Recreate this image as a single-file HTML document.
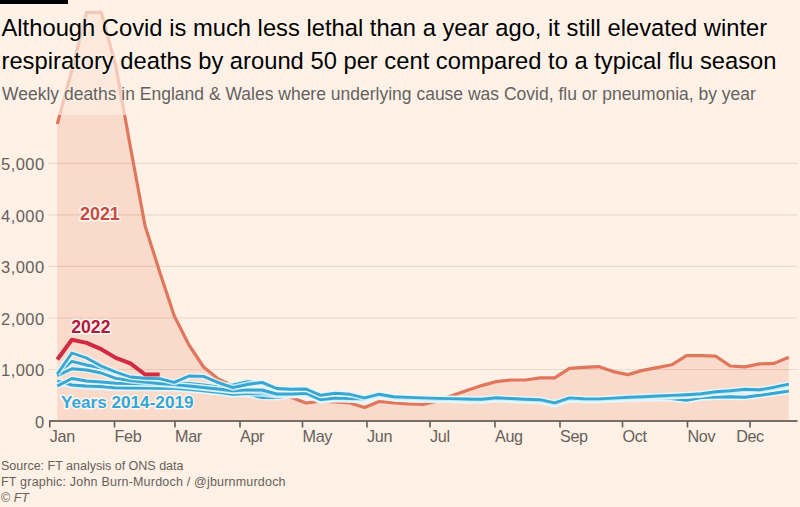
<!DOCTYPE html>
<html><head><meta charset="utf-8">
<style>
html,body{margin:0;padding:0;}
body{width:800px;height:507px;background:#fff1e5;position:relative;overflow:hidden;font-family:"Liberation Sans",sans-serif;}
svg{position:absolute;left:0;top:0;}
.g{stroke:rgba(60,20,0,0.1);stroke-width:1.1;}
.ax{stroke:#766e69;stroke-width:2;}
.tk{stroke:#655d59;stroke-width:1.6;}
.xl{font-size:16.2px;fill:#66605c;letter-spacing:-0.35px;}
.yl{font-size:16.5px;fill:#66605c;letter-spacing:0.45px;}
.bh{fill:none;stroke:#e4f8fc;stroke-opacity:0.8;stroke-width:6;stroke-linejoin:round;}
.bl{fill:none;stroke:#38a6d0;stroke-width:2.9;stroke-linejoin:round;}
.lab{font-weight:bold;font-size:17px;paint-order:stroke;stroke:#fff6ee;stroke-width:3px;stroke-linejoin:round;}
#hdr{position:absolute;left:0;top:0;width:800px;height:115px;background:rgba(255,241,229,0.66);}
#bar{position:absolute;left:0;top:0;width:68px;height:4px;background:#000;}
#t1,#t2{position:absolute;left:1.5px;font-size:23.75px;color:#000;white-space:nowrap;line-height:1;text-shadow:0 0 2px #fff7f0,0 0 2px #fff7f0;}
#t1{top:16px;} #t2{top:48.6px;}
#sub{position:absolute;left:2px;top:85.6px;font-size:17.5px;color:#66605c;white-space:nowrap;line-height:1;text-shadow:0 0 2px #fff7f0,0 0 2px #fff7f0;}
.ft{position:absolute;left:1px;font-size:12.5px;color:#66605c;white-space:nowrap;line-height:1;}
</style></head><body>
<svg width="800" height="507" viewBox="0 0 800 507">
<path d="M57.3,124.0 L71.9,70.0 L86.6,12.4 L101.2,12.4 L115.8,66.0 L130.4,147.0 L145.1,226.0 L159.7,272.0 L174.3,316.0 L189.0,345.0 L203.6,367.0 L218.2,379.0 L232.9,386.0 L247.5,390.3 L262.1,392.0 L276.8,395.0 L291.4,397.5 L306.0,403.0 L320.6,401.2 L335.3,402.0 L349.9,403.0 L364.5,407.5 L379.2,401.5 L393.8,403.0 L408.4,404.0 L423.1,404.4 L437.7,401.0 L452.3,395.5 L466.9,390.4 L481.6,385.6 L496.2,381.6 L510.8,380.0 L525.5,380.0 L540.1,377.8 L554.7,377.8 L569.4,368.3 L584.0,367.4 L598.6,366.6 L613.2,371.6 L627.9,374.6 L642.5,370.4 L657.1,367.6 L671.8,364.8 L686.4,355.7 L701.0,355.7 L715.6,356.2 L730.3,366.0 L744.9,366.9 L759.5,363.9 L774.2,363.4 L788.8,357.2 L788.8,421.0 L57.3,421.0 Z" fill="#fadaca"/>
<line x1="48.5" x2="797.5" y1="369.5" y2="369.5" class="g"/><line x1="48.5" x2="797.5" y1="318.0" y2="318.0" class="g"/><line x1="48.5" x2="797.5" y1="266.4" y2="266.4" class="g"/><line x1="48.5" x2="797.5" y1="214.9" y2="214.9" class="g"/><line x1="48.5" x2="797.5" y1="163.4" y2="163.4" class="g"/>
<path d="M57.3,124.0 L71.9,70.0 L86.6,12.4 L101.2,12.4 L115.8,66.0 L130.4,147.0 L145.1,226.0 L159.7,272.0 L174.3,316.0 L189.0,345.0 L203.6,367.0 L218.2,379.0 L232.9,386.0 L247.5,390.3 L262.1,392.0 L276.8,395.0 L291.4,397.5 L306.0,403.0 L320.6,401.2 L335.3,402.0 L349.9,403.0 L364.5,407.5 L379.2,401.5 L393.8,403.0 L408.4,404.0 L423.1,404.4 L437.7,401.0 L452.3,395.5 L466.9,390.4 L481.6,385.6 L496.2,381.6 L510.8,380.0 L525.5,380.0 L540.1,377.8 L554.7,377.8 L569.4,368.3 L584.0,367.4 L598.6,366.6 L613.2,371.6 L627.9,374.6 L642.5,370.4 L657.1,367.6 L671.8,364.8 L686.4,355.7 L701.0,355.7 L715.6,356.2 L730.3,366.0 L744.9,366.9 L759.5,363.9 L774.2,363.4 L788.8,357.2" fill="none" stroke="#e0775c" stroke-width="3.2" stroke-linejoin="round"/>
<path d="M57.3,374.6 L71.9,361.3 L86.6,365.0 L101.2,368.0 L115.8,372.5 L130.4,378.5 L145.1,380.0 L159.7,381.0 L174.3,383.0 L189.0,383.5 L203.6,385.0 L218.2,387.0 L232.9,385.0 L247.5,381.6 L262.1,383.5 L276.8,389.0 L291.4,389.8 L306.0,389.4 L320.6,395.8 L335.3,393.8 L349.9,394.8 L364.5,398.4 L379.2,394.6 L393.8,397.1 L408.4,397.8 L423.1,398.4 L437.7,398.8 L452.3,399.0 L466.9,399.4 L481.6,399.6 L496.2,398.1 L510.8,398.9 L525.5,399.6 L540.1,400.1 L554.7,403.4 L569.4,398.4 L584.0,399.2 L598.6,399.3 L613.2,398.5 L627.9,397.7 L642.5,397.1 L657.1,396.4 L671.8,395.8 L686.4,395.1 L701.0,394.1 L715.6,392.1 L730.3,391.1 L744.9,389.6 L759.5,390.2 L774.2,387.6 L788.8,384.6" class="bh"/><path d="M57.3,374.6 L71.9,361.3 L86.6,365.0 L101.2,368.0 L115.8,372.5 L130.4,378.5 L145.1,380.0 L159.7,381.0 L174.3,383.0 L189.0,383.5 L203.6,385.0 L218.2,387.0 L232.9,385.0 L247.5,381.6 L262.1,383.5 L276.8,389.0 L291.4,389.8 L306.0,389.4 L320.6,395.8 L335.3,393.8 L349.9,394.8 L364.5,398.4 L379.2,394.6 L393.8,397.1 L408.4,397.8 L423.1,398.4 L437.7,398.8 L452.3,399.0 L466.9,399.4 L481.6,399.6 L496.2,398.1 L510.8,398.9 L525.5,399.6 L540.1,400.1 L554.7,403.4 L569.4,398.4 L584.0,399.2 L598.6,399.3 L613.2,398.5 L627.9,397.7 L642.5,397.1 L657.1,396.4 L671.8,395.8 L686.4,395.1 L701.0,394.1 L715.6,392.1 L730.3,391.1 L744.9,389.6 L759.5,390.2 L774.2,387.6 L788.8,384.6" class="bl"/><path d="M57.3,381.5 L71.9,385.5 L86.6,386.7 L101.2,387.2 L115.8,388.2 L130.4,388.3 L145.1,388.3 L159.7,388.5 L174.3,388.6 L189.0,389.8 L203.6,391.1 L218.2,392.6 L232.9,394.7 L247.5,394.2 L262.1,397.5 L276.8,397.5 L291.4,395.5 L306.0,394.5 L320.6,400.8 L335.3,399.2 L349.9,399.8 L364.5,399.6 L379.2,395.9 L393.8,398.4 L408.4,399.1 L423.1,399.6 L437.7,400.1 L452.3,400.3 L466.9,400.7 L481.6,400.9 L496.2,399.4 L510.8,400.2 L525.5,400.9 L540.1,401.4 L554.7,404.6 L569.4,399.6 L584.0,400.5 L598.6,400.6 L613.2,399.8 L627.9,399.0 L642.5,398.4 L657.1,398.4 L671.8,398.7 L686.4,400.4 L701.0,397.7 L715.6,397.2 L730.3,396.8 L744.9,397.4 L759.5,395.4 L774.2,393.4 L788.8,391.2" class="bh"/><path d="M57.3,381.5 L71.9,385.5 L86.6,386.7 L101.2,387.2 L115.8,388.2 L130.4,388.3 L145.1,388.3 L159.7,388.5 L174.3,388.6 L189.0,389.8 L203.6,391.1 L218.2,392.6 L232.9,394.7 L247.5,394.2 L262.1,397.5 L276.8,397.5 L291.4,395.5 L306.0,394.5 L320.6,400.8 L335.3,399.2 L349.9,399.8 L364.5,399.6 L379.2,395.9 L393.8,398.4 L408.4,399.1 L423.1,399.6 L437.7,400.1 L452.3,400.3 L466.9,400.7 L481.6,400.9 L496.2,399.4 L510.8,400.2 L525.5,400.9 L540.1,401.4 L554.7,404.6 L569.4,399.6 L584.0,400.5 L598.6,400.6 L613.2,399.8 L627.9,399.0 L642.5,398.4 L657.1,398.4 L671.8,398.7 L686.4,400.4 L701.0,397.7 L715.6,397.2 L730.3,396.8 L744.9,397.4 L759.5,395.4 L774.2,393.4 L788.8,391.2" class="bl"/><path d="M57.3,380.8 L71.9,385.0 L86.6,386.0 L101.2,386.5 L115.8,387.9 L130.4,388.0 L145.1,388.0 L159.7,388.2 L174.3,388.2 L189.0,389.4 L203.6,390.7 L218.2,392.2 L232.9,394.2 L247.5,393.4 L262.1,393.8 L276.8,395.4 L291.4,395.0 L306.0,394.0 L320.6,400.4 L335.3,398.9 L349.9,399.5 L364.5,399.4 L379.2,395.6 L393.8,398.1 L408.4,398.8 L423.1,399.4 L437.7,399.8 L452.3,400.0 L466.9,400.4 L481.6,400.6 L496.2,399.1 L510.8,399.9 L525.5,400.6 L540.1,401.1 L554.7,404.4 L569.4,399.4 L584.0,400.2 L598.6,400.3 L613.2,399.5 L627.9,398.7 L642.5,398.3 L657.1,398.3 L671.8,398.6 L686.4,400.3 L701.0,397.6 L715.6,397.1 L730.3,396.7 L744.9,397.3 L759.5,395.3 L774.2,393.3 L788.8,391.1" class="bh"/><path d="M57.3,380.8 L71.9,385.0 L86.6,386.0 L101.2,386.5 L115.8,387.9 L130.4,388.0 L145.1,388.0 L159.7,388.2 L174.3,388.2 L189.0,389.4 L203.6,390.7 L218.2,392.2 L232.9,394.2 L247.5,393.4 L262.1,393.8 L276.8,395.4 L291.4,395.0 L306.0,394.0 L320.6,400.4 L335.3,398.9 L349.9,399.5 L364.5,399.4 L379.2,395.6 L393.8,398.1 L408.4,398.8 L423.1,399.4 L437.7,399.8 L452.3,400.0 L466.9,400.4 L481.6,400.6 L496.2,399.1 L510.8,399.9 L525.5,400.6 L540.1,401.1 L554.7,404.4 L569.4,399.4 L584.0,400.2 L598.6,400.3 L613.2,399.5 L627.9,398.7 L642.5,398.3 L657.1,398.3 L671.8,398.6 L686.4,400.3 L701.0,397.6 L715.6,397.1 L730.3,396.7 L744.9,397.3 L759.5,395.3 L774.2,393.3 L788.8,391.1" class="bl"/><path d="M57.3,386.0 L71.9,378.5 L86.6,381.0 L101.2,382.0 L115.8,383.2 L130.4,383.5 L145.1,383.9 L159.7,384.3 L174.3,385.2 L189.0,386.6 L203.6,388.1 L218.2,389.6 L232.9,391.3 L247.5,390.6 L262.1,391.5 L276.8,394.8 L291.4,394.6 L306.0,393.8 L320.6,400.2 L335.3,398.6 L349.9,399.2 L364.5,399.1 L379.2,395.3 L393.8,397.8 L408.4,398.5 L423.1,399.1 L437.7,399.5 L452.3,399.7 L466.9,400.1 L481.6,400.3 L496.2,398.8 L510.8,399.6 L525.5,400.3 L540.1,400.8 L554.7,404.1 L569.4,399.1 L584.0,399.9 L598.6,400.0 L613.2,399.2 L627.9,398.4 L642.5,397.8 L657.1,397.1 L671.8,396.5 L686.4,395.8 L701.0,394.8 L715.6,392.8 L730.3,391.8 L744.9,390.3 L759.5,390.9 L774.2,388.3 L788.8,385.3" class="bh"/><path d="M57.3,386.0 L71.9,378.5 L86.6,381.0 L101.2,382.0 L115.8,383.2 L130.4,383.5 L145.1,383.9 L159.7,384.3 L174.3,385.2 L189.0,386.6 L203.6,388.1 L218.2,389.6 L232.9,391.3 L247.5,390.6 L262.1,391.5 L276.8,394.8 L291.4,394.6 L306.0,393.8 L320.6,400.2 L335.3,398.6 L349.9,399.2 L364.5,399.1 L379.2,395.3 L393.8,397.8 L408.4,398.5 L423.1,399.1 L437.7,399.5 L452.3,399.7 L466.9,400.1 L481.6,400.3 L496.2,398.8 L510.8,399.6 L525.5,400.3 L540.1,400.8 L554.7,404.1 L569.4,399.1 L584.0,399.9 L598.6,400.0 L613.2,399.2 L627.9,398.4 L642.5,397.8 L657.1,397.1 L671.8,396.5 L686.4,395.8 L701.0,394.8 L715.6,392.8 L730.3,391.8 L744.9,390.3 L759.5,390.9 L774.2,388.3 L788.8,385.3" class="bl"/><path d="M57.3,375.6 L71.9,368.7 L86.6,370.0 L101.2,373.0 L115.8,378.4 L130.4,380.5 L145.1,382.0 L159.7,383.5 L174.3,384.6 L189.0,386.0 L203.6,387.5 L218.2,389.0 L232.9,390.8 L247.5,389.9 L262.1,390.0 L276.8,394.0 L291.4,394.0 L306.0,393.2 L320.6,399.6 L335.3,398.0 L349.9,398.6 L364.5,398.8 L379.2,395.0 L393.8,397.5 L408.4,398.2 L423.1,398.8 L437.7,399.2 L452.3,399.4 L466.9,399.8 L481.6,400.0 L496.2,398.5 L510.8,399.3 L525.5,400.0 L540.1,400.5 L554.7,403.8 L569.4,398.8 L584.0,399.6 L598.6,399.7 L613.2,398.9 L627.9,398.1 L642.5,397.5 L657.1,396.8 L671.8,396.2 L686.4,395.5 L701.0,394.5 L715.6,392.5 L730.3,391.5 L744.9,390.0 L759.5,390.6 L774.2,388.0 L788.8,385.0" class="bh"/><path d="M57.3,375.6 L71.9,368.7 L86.6,370.0 L101.2,373.0 L115.8,378.4 L130.4,380.5 L145.1,382.0 L159.7,383.5 L174.3,384.6 L189.0,386.0 L203.6,387.5 L218.2,389.0 L232.9,390.8 L247.5,389.9 L262.1,390.0 L276.8,394.0 L291.4,394.0 L306.0,393.2 L320.6,399.6 L335.3,398.0 L349.9,398.6 L364.5,398.8 L379.2,395.0 L393.8,397.5 L408.4,398.2 L423.1,398.8 L437.7,399.2 L452.3,399.4 L466.9,399.8 L481.6,400.0 L496.2,398.5 L510.8,399.3 L525.5,400.0 L540.1,400.5 L554.7,403.8 L569.4,398.8 L584.0,399.6 L598.6,399.7 L613.2,398.9 L627.9,398.1 L642.5,397.5 L657.1,396.8 L671.8,396.2 L686.4,395.5 L701.0,394.5 L715.6,392.5 L730.3,391.5 L744.9,390.0 L759.5,390.6 L774.2,388.0 L788.8,385.0" class="bl"/><path d="M57.3,374.0 L71.9,353.0 L86.6,358.0 L101.2,366.0 L115.8,372.0 L130.4,377.0 L145.1,378.2 L159.7,378.6 L174.3,382.4 L189.0,376.0 L203.6,376.4 L218.2,382.6 L232.9,387.7 L247.5,384.5 L262.1,382.4 L276.8,388.5 L291.4,389.3 L306.0,389.0 L320.6,395.3 L335.3,393.3 L349.9,394.3 L364.5,397.9 L379.2,394.2 L393.8,396.7 L408.4,397.4 L423.1,397.9 L437.7,398.4 L452.3,398.6 L466.9,399.0 L481.6,399.2 L496.2,397.7 L510.8,398.5 L525.5,399.2 L540.1,399.7 L554.7,402.9 L569.4,397.9 L584.0,398.8 L598.6,398.9 L613.2,398.1 L627.9,397.3 L642.5,396.7 L657.1,396.0 L671.8,395.4 L686.4,394.7 L701.0,393.7 L715.6,391.7 L730.3,390.7 L744.9,389.2 L759.5,389.8 L774.2,387.2 L788.8,384.2" class="bh"/><path d="M57.3,374.0 L71.9,353.0 L86.6,358.0 L101.2,366.0 L115.8,372.0 L130.4,377.0 L145.1,378.2 L159.7,378.6 L174.3,382.4 L189.0,376.0 L203.6,376.4 L218.2,382.6 L232.9,387.7 L247.5,384.5 L262.1,382.4 L276.8,388.5 L291.4,389.3 L306.0,389.0 L320.6,395.3 L335.3,393.3 L349.9,394.3 L364.5,397.9 L379.2,394.2 L393.8,396.7 L408.4,397.4 L423.1,397.9 L437.7,398.4 L452.3,398.6 L466.9,399.0 L481.6,399.2 L496.2,397.7 L510.8,398.5 L525.5,399.2 L540.1,399.7 L554.7,402.9 L569.4,397.9 L584.0,398.8 L598.6,398.9 L613.2,398.1 L627.9,397.3 L642.5,396.7 L657.1,396.0 L671.8,395.4 L686.4,394.7 L701.0,393.7 L715.6,391.7 L730.3,390.7 L744.9,389.2 L759.5,389.8 L774.2,387.2 L788.8,384.2" class="bl"/>
<path d="M57.3,359.5 L71.9,339.7 L86.6,342.9 L101.2,349.2 L115.8,357.9 L130.4,363.4 L145.1,374.5 L159.7,374.5" fill="none" stroke="#d22a42" stroke-width="4" stroke-linejoin="round"/>
<line x1="49" x2="797.5" y1="421.0" y2="421.0" class="ax"/>
<line x1="49.75" x2="49.75" y1="421.0" y2="427.5" class="tk"/><text x="49.75" y="442.4" text-anchor="start" class="xl">Jan</text><line x1="114.5" x2="114.5" y1="421.0" y2="427.5" class="tk"/><text x="114.5" y="442.4" text-anchor="start" class="xl">Feb</text><line x1="175" x2="175" y1="421.0" y2="427.5" class="tk"/><text x="175" y="442.4" text-anchor="start" class="xl">Mar</text><line x1="240" x2="240" y1="421.0" y2="427.5" class="tk"/><text x="240" y="442.4" text-anchor="start" class="xl">Apr</text><line x1="302.5" x2="302.5" y1="421.0" y2="427.5" class="tk"/><text x="302.5" y="442.4" text-anchor="start" class="xl">May</text><line x1="367" x2="367" y1="421.0" y2="427.5" class="tk"/><text x="367" y="442.4" text-anchor="start" class="xl">Jun</text><line x1="430" x2="430" y1="421.0" y2="427.5" class="tk"/><text x="430" y="442.4" text-anchor="start" class="xl">Jul</text><line x1="495" x2="495" y1="421.0" y2="427.5" class="tk"/><text x="495" y="442.4" text-anchor="start" class="xl">Aug</text><line x1="560" x2="560" y1="421.0" y2="427.5" class="tk"/><text x="560" y="442.4" text-anchor="start" class="xl">Sep</text><line x1="622.5" x2="622.5" y1="421.0" y2="427.5" class="tk"/><text x="622.5" y="442.4" text-anchor="start" class="xl">Oct</text><line x1="687.5" x2="687.5" y1="421.0" y2="427.5" class="tk"/><text x="687.5" y="442.4" text-anchor="start" class="xl">Nov</text><line x1="750" x2="750" y1="421.0" y2="427.5" class="tk"/><text x="750" y="442.4" text-anchor="middle" class="xl">Dec</text>
<text x="44.6" y="427.7" text-anchor="end" class="yl">0</text><text x="44.6" y="376.2" text-anchor="end" class="yl">1,000</text><text x="44.6" y="324.7" text-anchor="end" class="yl">2,000</text><text x="44.6" y="273.1" text-anchor="end" class="yl">3,000</text><text x="44.6" y="221.6" text-anchor="end" class="yl">4,000</text><text x="44.6" y="170.1" text-anchor="end" class="yl">5,000</text>
<text x="80" y="219.5" class="lab" fill="#c44c45" style="font-size:17.9px">2021</text>
<text x="71.3" y="332.7" class="lab" fill="#b3173f" style="font-size:17.6px">2022</text>
<text x="61" y="408" class="lab" fill="#33a7da" style="font-size:17.15px">Years 2014-2019</text>
</svg>
<div id="hdr"></div>
<div id="bar"></div>
<div id="t1">Although Covid is much less lethal than a year ago, it still elevated winter</div>
<div id="t2">respiratory deaths by around 50 per cent compared to a typical flu season</div>
<div id="sub">Weekly deaths in England &amp; Wales where underlying cause was Covid, flu or pneumonia, by year</div>
<div class="ft" style="top:460px">Source: FT analysis of ONS data</div>
<div class="ft" style="top:476px;letter-spacing:0.2px">FT graphic: John Burn-Murdoch / @jburnmurdoch</div>
<div class="ft" style="top:492px">&copy; <i>FT</i></div>
</body></html>
